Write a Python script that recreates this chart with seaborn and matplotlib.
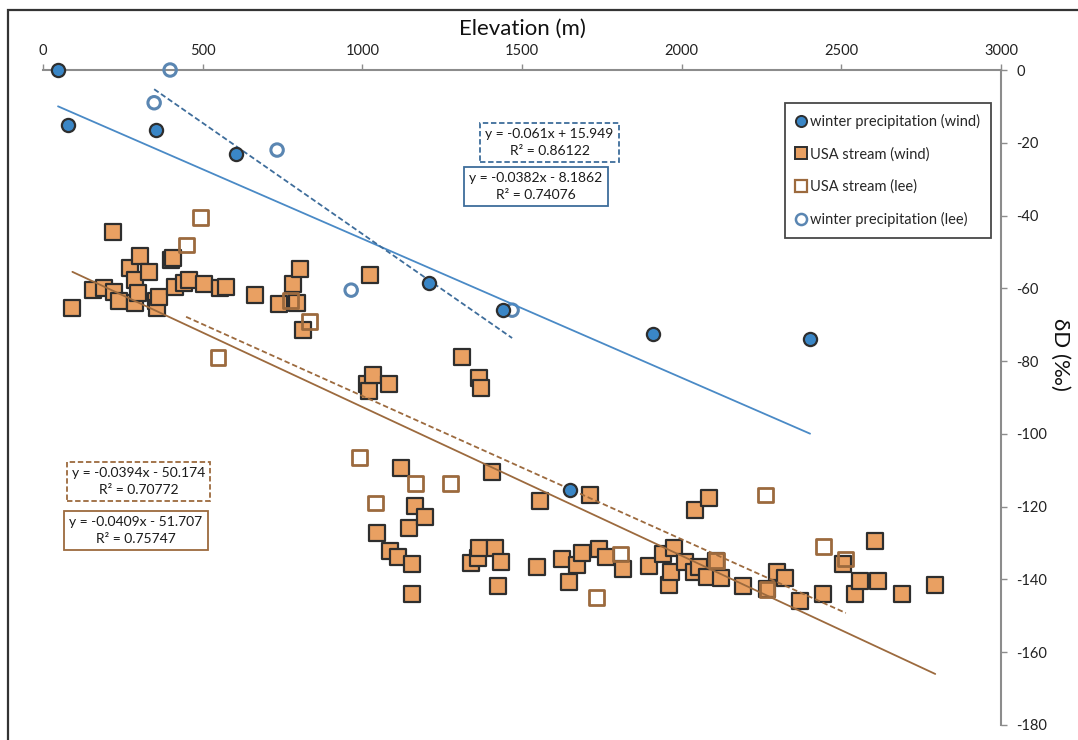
import numpy as np
import matplotlib
matplotlib.use("Agg")
import matplotlib.pyplot as plt
from matplotlib.lines import Line2D
from matplotlib.patches import Rectangle
import seaborn as sns

# Winter precipitation, windward side (elevation m, dD permil)
wp_wind_x = [47, 78, 354, 604, 1209, 1441, 1650, 1910, 2402]
wp_wind_y = [0, -15, -16.5, -23, -58.5, -66, -115.5, -72.5, -74]

# Winter precipitation, lee side
wp_lee_x = [348, 398, 733, 965, 1469]
wp_lee_y = [-9, 0, -22, -60.5, -66]

# USA stream samples, windward side
st_wind_x = [92, 158, 191, 218, 222, 237, 273, 288, 288, 298, 304, 333, 354, 357,
             362, 402, 408, 412, 441, 458, 503, 554, 572, 663, 739, 784, 795, 804,
             814, 1025, 1016, 1020, 1034, 1085, 1311, 1366, 1371, 1045, 1086, 1111,
             1120, 1145, 1156, 1156, 1166, 1195, 1341, 1361, 1366, 1406, 1416, 1426,
             1435, 1546, 1555, 1626, 1646, 1671, 1687, 1712, 1742, 1762, 1817, 1898,
             1943, 1961, 1968, 1977, 2009, 2039, 2043, 2053, 2078, 2084, 2108, 2122,
             2193, 2267, 2299, 2324, 2369, 2444, 2504, 2544, 2559, 2604, 2614, 2689,
             2794]
st_wind_y = [-65.3, -60.5, -60, -44.6, -60.9, -63.6, -54.4, -57.8, -63.9, -61.2,
             -51.2, -55.6, -63.5, -65.3, -62.5, -52.3, -51.7, -59.5, -58.6, -57.8,
             -58.7, -60, -59.5, -61.7, -64.4, -58.7, -63.9, -54.8, -71.4, -56.2,
             -86.4, -88.2, -83.7, -86.4, -79, -84.7, -87.5, -127.3, -132.2, -133.9,
             -109.3, -125.9, -135.7, -144, -119.8, -122.9, -135.6, -134.2, -131.3,
             -110.6, -131.3, -141.9, -135.3, -136.5, -118.5, -134.3, -140.6, -136.1,
             -132.6, -116.8, -131.7, -133.9, -137, -136.2, -133.1, -141.4, -137.9,
             -131.3, -135.3, -137.9, -120.8, -136.5, -139.2, -117.7, -134.8, -139.6,
             -141.8, -142.7, -137.9, -139.7, -145.8, -144, -135.8, -144, -140.5,
             -129.5, -140.5, -144, -141.4]

# USA stream samples, lee side
st_lee_x = [448, 493, 548, 774, 834, 990, 1041, 1166, 1276, 1732, 1807, 2108,
            2263, 2267, 2444, 2514]
st_lee_y = [-48.1, -40.6, -79.1, -63.4, -69.2, -106.6, -119, -113.7, -113.7,
            -144.9, -133, -134.8, -116.8, -142.7, -130.9, -134.4]

# Linear trendlines: slope, intercept, R²
fit_wp_wind = [-0.0382, -8.1862, 0.74076]
fit_wp_lee = [-0.061, 15.949, 0.86122]
fit_st_wind = [-0.0409, -51.707, 0.75747]
fit_st_lee = [-0.0394, -50.174, 0.70772]

x_ticks = [0, 500, 1000, 1500, 2000, 2500, 3000]
y_ticks = [0, -20, -40, -60, -80, -100, -120, -140, -160, -180]

BLUE_FILL = "#3a86c6"
BLUE_LINE = "#4a8ac6"
BLUE_DARK = "#3e6d9b"
BLUE_OPEN = "#5a86b2"
ORANGE = "#e9a062"
BROWN = "#9c6a3e"
EDGE = "#2e2e2e"
AXIS = "#8c8c8c"

sns.set_theme(style="white")
plt.rcParams["font.family"] = ["Lato", "DejaVu Sans"]

fig = plt.figure(figsize=(10.78, 7.40), dpi=100)
ax = fig.add_axes([0.0399, 0.0203, 0.8887, 0.8851])


def trend(fit, xs, color, ls):
    x0, x1 = min(xs), max(xs)
    xx = np.array([x0, x1], dtype=float)
    yy = fit[0] * xx + fit[1]
    sns.lineplot(x=xx, y=yy, ax=ax, color=color, linestyle=ls, linewidth=1.3,
                 zorder=4, legend=False)


# scatter series
sns.scatterplot(x=wp_lee_x, y=wp_lee_y, ax=ax, marker="o", s=80,
                facecolor="none", edgecolor=BLUE_OPEN, linewidth=2.2,
                zorder=3, clip_on=False)
sns.scatterplot(x=st_wind_x, y=st_wind_y, ax=ax, marker="s", s=120,
                color=ORANGE, edgecolor=EDGE, linewidth=1.6, zorder=3,
                clip_on=False)
sns.scatterplot(x=st_lee_x, y=st_lee_y, ax=ax, marker="s", s=115,
                facecolor="none", edgecolor=BROWN, linewidth=2.0, zorder=3,
                clip_on=False)
sns.scatterplot(x=wp_wind_x, y=wp_wind_y, ax=ax, marker="o", s=90,
                color=BLUE_FILL, edgecolor=EDGE, linewidth=1.6, zorder=5,
                clip_on=False)

# trendlines
trend(fit_wp_wind, wp_wind_x, BLUE_LINE, "-")
trend(fit_wp_lee, wp_lee_x, BLUE_DARK, (0, (3, 1.6)))
trend(fit_st_wind, st_wind_x, BROWN, "-")
trend(fit_st_lee, st_lee_x, BROWN, (0, (3, 1.6)))


def eq_box(fit, xa, ya, color, ls):
    sign = "+" if fit[1] >= 0 else "-"
    txt = f"y = {fit[0]:g}x {sign} {abs(fit[1]):g}\nR² = {fit[2]:g}"
    ax.text(xa, ya, txt, transform=ax.transAxes, ha="center", va="center",
            multialignment="center", fontsize=10, color="#1a1a1a",
            linespacing=1.5, zorder=6,
            bbox=dict(boxstyle="square,pad=0.36", fc="white", ec=color,
                      lw=1.3, ls=ls))


eq_box(fit_wp_lee, 0.5287, 0.8900, BLUE_DARK, (0, (3, 1.5)))
eq_box(fit_wp_wind, 0.5146, 0.8225, BLUE_DARK, "-")
eq_box(fit_st_lee, 0.0996, 0.3716, BROWN, (0, (3, 1.5)))
eq_box(fit_st_wind, 0.0971, 0.2966, BROWN, "-")

# axes layout: x axis along the top, y axis on the right
ax.set_xlim(0, 3000)
ax.set_ylim(-180, 0)
ax.xaxis.tick_top()
ax.xaxis.set_label_position("top")
ax.yaxis.tick_right()
ax.yaxis.set_label_position("right")
ax.set_xticks(x_ticks)
ax.set_yticks(y_ticks)
ax.set_xticklabels([str(v) for v in x_ticks])
ax.set_yticklabels([str(v) for v in y_ticks])
for side in ("left", "bottom"):
    ax.spines[side].set_visible(False)
for side in ("top", "right"):
    ax.spines[side].set_color(AXIS)
    ax.spines[side].set_linewidth(1.5)
ax.tick_params(axis="x", direction="out", length=4, width=1, color=AXIS,
               pad=5, labelsize=10.5, labelcolor="#222222", top=True,
               bottom=False)
ax.tick_params(axis="y", direction="out", length=4, width=1, color=AXIS,
               pad=7, labelsize=10.5, labelcolor="#222222", right=True,
               left=False)
ax.set_xlabel("Elevation (m)", fontsize=16, labelpad=6, color="#111111")
ax.set_ylabel("δD (‰)", fontsize=16, rotation=270, color="#111111",
              va="center", ha="center")
ax.yaxis.set_label_coords(1.0616, 0.565)
ax.grid(False)

handles = [
    Line2D([], [], ls="none", marker="o", ms=8, mfc=BLUE_FILL, mec=EDGE,
           mew=1.4, label="winter precipitation (wind)"),
    Line2D([], [], ls="none", marker="s", ms=8, mfc=ORANGE, mec=EDGE,
           mew=1.4, label="USA stream (wind)"),
    Line2D([], [], ls="none", marker="s", ms=8, mfc="white", mec=BROWN,
           mew=1.6, label="USA stream (lee)"),
    Line2D([], [], ls="none", marker="o", ms=8, mfc="white", mec=BLUE_OPEN,
           mew=1.8, label="winter precipitation (lee)"),
]
leg = ax.legend(handles=handles, loc="upper right",
                bbox_to_anchor=(0.9896, 0.9496), borderaxespad=0,
                fontsize=10.5, frameon=True, fancybox=False, handlelength=0.8,
                handletextpad=0.2, labelspacing=1.25, borderpad=0.75)
leg.get_frame().set_edgecolor("#1a1a1a")
leg.get_frame().set_linewidth(1.3)
leg.set_zorder(7)

# outer chart frame
fig.add_artist(Rectangle((8 / 1078, -0.05), 1.2, 1 - 10 / 740 + 0.05,
                         transform=fig.transFigure, fill=False,
                         ec="#333333", lw=1.6))

fig.savefig("out.png", dpi=100)
